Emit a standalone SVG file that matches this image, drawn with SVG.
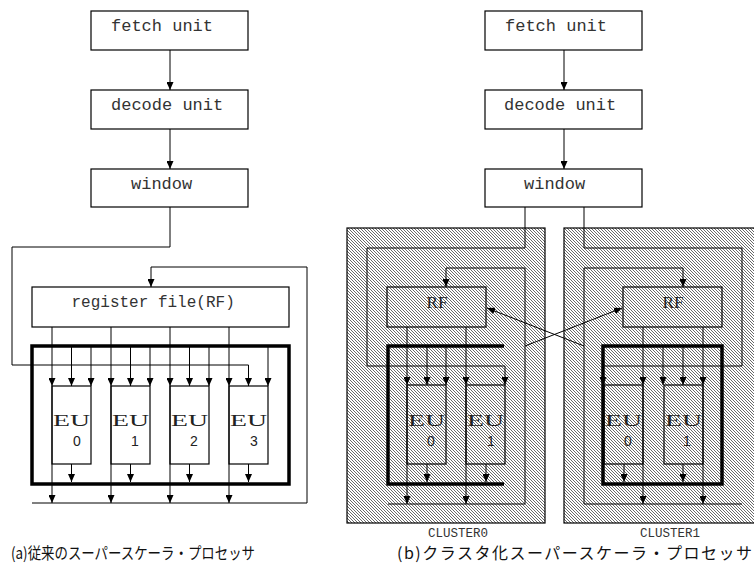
<svg xmlns="http://www.w3.org/2000/svg" width="754" height="567" viewBox="0 0 754 567">
<style>
.box{fill:#fff;stroke:#000;stroke-width:1.2}
.hb{fill:none;stroke:#000;stroke-width:1.2}
.ln{fill:none;stroke:#000;stroke-width:1}
.ar{marker-end:url(#ah)}
.thick{fill:none;stroke:#000;stroke-width:3.5}
.mono{font-family:"Liberation Mono","DejaVu Sans Mono",monospace;font-size:17px;fill:#333}
.rft{font-family:"Liberation Mono","DejaVu Sans Mono",monospace;font-size:16px;fill:#333}
.eu{font-family:"Liberation Serif","DejaVu Serif",serif;font-size:16px;fill:#222}
.num{font-family:"Liberation Sans","DejaVu Sans",sans-serif;font-size:14px;fill:#222;text-anchor:middle}
.cl{font-family:"Liberation Mono","DejaVu Sans Mono",monospace;font-size:12.5px;fill:#333}
.cap{font-family:"Noto Sans CJK JP",sans-serif;font-size:16px;fill:#111}
</style>
<defs>
<marker id="ah" viewBox="0 0 10 10" refX="10" refY="5" markerWidth="8" markerHeight="7" markerUnits="userSpaceOnUse" orient="auto" preserveAspectRatio="none"><path d="M0,0 L10,5 L0,10 z" fill="#000"/></marker>
<pattern id="hatch" width="3" height="3" patternUnits="userSpaceOnUse"><path d="M-1,-1 L4,4 M-1,2 L1,4 M2,-1 L4,1" stroke="#444" stroke-width="0.8"/></pattern>
</defs>

<!-- cluster backgrounds -->
<g id="cluster0-bg"><rect x="347" y="228" width="198" height="295" fill="url(#hatch)" stroke="#000" stroke-width="1.2"/></g>
<g id="cluster1-bg"><rect x="564" y="228" width="200" height="295" fill="url(#hatch)" stroke="#000" stroke-width="1.2"/></g>

<!-- ===== (a) conventional ===== -->
<g id="fetch-a"><rect class="box" x="91" y="11" width="157" height="39"/><text class="mono" x="111" y="31">fetch unit</text></g>
<g id="decode-a"><rect class="box" x="91" y="90" width="157" height="39"/><text class="mono" x="111" y="110">decode unit</text></g>
<g id="window-a"><rect class="box" x="91" y="169" width="157" height="38"/><text class="mono" x="131" y="189">window</text></g>
<g id="rf-a"><rect class="box" x="32" y="287" width="257" height="40"/><text class="rft" x="71.5" y="307">register file(RF)</text></g>
<g id="exec-a"><rect class="thick" x="32" y="346" width="257" height="138"/></g>
<g id="eu0-a"><rect class="box" x="52" y="386" width="39" height="78"/><text class="eu" x="53" y="426" textLength="37" lengthAdjust="spacingAndGlyphs">EU</text><text class="num" x="77" y="446">0</text></g>
<g id="eu1-a"><rect class="box" x="111" y="386" width="39" height="78"/><text class="eu" x="112" y="426" textLength="37" lengthAdjust="spacingAndGlyphs">EU</text><text class="num" x="135" y="446">1</text></g>
<g id="eu2-a"><rect class="box" x="170" y="386" width="39" height="78"/><text class="eu" x="171" y="426" textLength="37" lengthAdjust="spacingAndGlyphs">EU</text><text class="num" x="194" y="446">2</text></g>
<g id="eu3-a"><rect class="box" x="229" y="386" width="39" height="78"/><text class="eu" x="230" y="426" textLength="37" lengthAdjust="spacingAndGlyphs">EU</text><text class="num" x="254" y="446">3</text></g>

<!-- ===== (b) clustered ===== -->
<g id="fetch-b"><rect class="box" x="485" y="11" width="157" height="39"/><text class="mono" x="505" y="31">fetch unit</text></g>
<g id="decode-b"><rect class="box" x="485" y="90" width="157" height="39"/><text class="mono" x="504" y="110">decode unit</text></g>
<g id="window-b"><rect class="box" x="485" y="169" width="157" height="38"/><text class="mono" x="524" y="189">window</text></g>
<g id="rf-c0"><rect class="hb" x="387" y="287" width="99" height="40"/><text class="eu" x="426.5" y="308" textLength="21" lengthAdjust="spacingAndGlyphs">RF</text></g>
<g id="rf-c1"><rect class="hb" x="623" y="287" width="99" height="40"/><text class="eu" x="662.5" y="308" textLength="21" lengthAdjust="spacingAndGlyphs">RF</text></g>
<g id="exec-c0"><path class="thick" d="M504,346 H388 V484 H504"/></g>
<g id="exec-c1"><rect class="thick" x="603" y="346" width="119" height="138"/></g>
<g id="eu0-c0"><rect class="hb" x="407" y="385" width="39" height="79"/><text class="eu" x="408" y="426" textLength="37" lengthAdjust="spacingAndGlyphs">EU</text><text class="num" x="431" y="446">0</text></g>
<g id="eu1-c0"><rect class="hb" x="466" y="385" width="39" height="79"/><text class="eu" x="467" y="426" textLength="37" lengthAdjust="spacingAndGlyphs">EU</text><text class="num" x="491" y="446">1</text></g>
<g id="eu0-c1"><rect class="hb" x="604" y="385" width="39" height="79"/><text class="eu" x="605" y="426" textLength="37" lengthAdjust="spacingAndGlyphs">EU</text><text class="num" x="628" y="446">0</text></g>
<g id="eu1-c1"><rect class="hb" x="664" y="385" width="39" height="79"/><text class="eu" x="665" y="426" textLength="37" lengthAdjust="spacingAndGlyphs">EU</text><text class="num" x="687" y="446">1</text></g>

<g id="connectors">
<!-- (a) -->
<path class="ln ar" d="M170,50 V90"/>
<path class="ln ar" d="M170,129 V169"/>
<path class="ln ar" d="M170,207 V247 H12 V365 H248.5 V386"/>
<path class="ln ar" d="M32,503 H307 V267 H151 V287"/>
<path class="ln ar" d="M52,327 V386"/><path class="ln ar" d="M52,386 V503"/>
<path class="ln ar" d="M111,327 V386"/><path class="ln ar" d="M111,386 V503"/>
<path class="ln ar" d="M170,327 V386"/><path class="ln ar" d="M170,386 V503"/>
<path class="ln ar" d="M229,327 V386"/><path class="ln ar" d="M229,386 V503"/>
<path class="ln ar" d="M71.5,346 V386"/><path class="ln ar" d="M91,346 V386"/>
<path class="ln ar" d="M130.5,346 V386"/><path class="ln ar" d="M150,346 V386"/>
<path class="ln ar" d="M189.5,346 V386"/><path class="ln ar" d="M209,346 V386"/>
<path class="ln ar" d="M268,346 V386"/>
<path class="ln ar" d="M71.5,464 V482"/><path class="ln ar" d="M130.5,464 V482"/>
<path class="ln ar" d="M189.5,464 V482"/><path class="ln ar" d="M248.5,464 V482"/>
<!-- (b) -->
<path class="ln ar" d="M564,50 V90"/>
<path class="ln ar" d="M564,129 V169"/>
<path class="ln ar" d="M525,207 V248 H367 V366 H505 V385"/>
<path class="ln ar" d="M584,207 V248 H742 V366 H603 V385"/>
<path class="ln ar" d="M388,504 H525 V268 H446 V287"/>
<path class="ln ar" d="M742,504 H584 V268 H683 V287"/>
<path class="ln ar" d="M407,327 V385"/><path class="ln ar" d="M407,385 V504"/>
<path class="ln ar" d="M466,327 V385"/><path class="ln ar" d="M466,385 V504"/>
<path class="ln ar" d="M427,346 V385"/><path class="ln ar" d="M446,346 V385"/>
<path class="ln ar" d="M427,464 V482"/><path class="ln ar" d="M486,464 V482"/>
<path class="ln ar" d="M643,327 V385"/><path class="ln ar" d="M643,385 V504"/>
<path class="ln ar" d="M703,327 V385"/><path class="ln ar" d="M703,385 V504"/>
<path class="ln ar" d="M663,346 V385"/><path class="ln ar" d="M683,346 V385"/>
<path class="ln ar" d="M624,464 V482"/><path class="ln ar" d="M683,464 V482"/>
<path class="ln ar" d="M584,346 L487,308"/>
<path class="ln ar" d="M525,346 L622,308"/>
</g>

<g id="labels">
<text class="cl" x="428" y="537">CLUSTER0</text>
<text class="cl" x="640" y="537">CLUSTER1</text>
<text class="cap" x="11" y="559" textLength="244" lengthAdjust="spacingAndGlyphs">(a)従来のスーパースケーラ・プロセッサ</text>
<text class="cap" x="397" y="559" textLength="355" lengthAdjust="spacing">(b)クラスタ化スーパースケーラ・プロセッサ</text>
</g>
</svg>
